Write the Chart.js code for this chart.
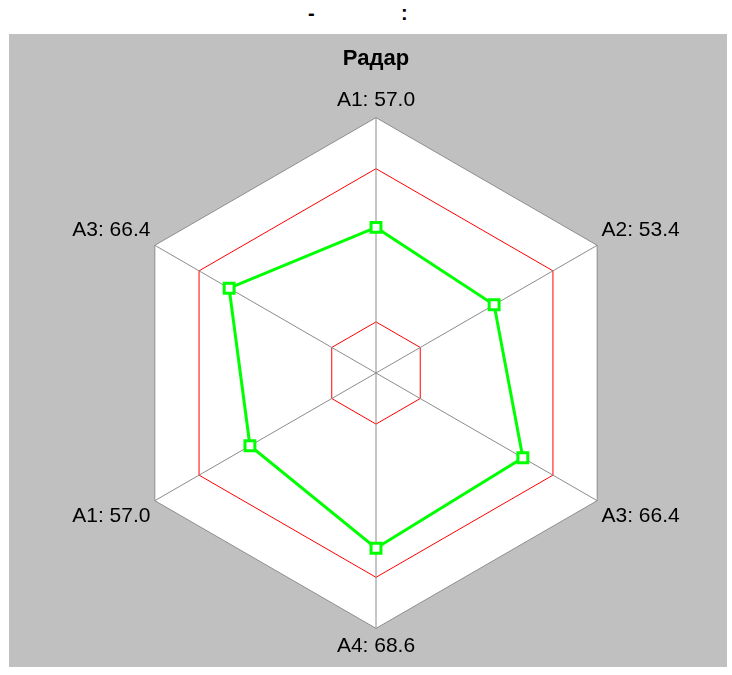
<!DOCTYPE html>
<html>
<head>
<meta charset="utf-8">
<script src="https://cdn.jsdelivr.net/npm/chart.js@4"></script>
<style>
  html, body { margin: 0; padding: 0; background: #fff; }
  body { width: 732px; height: 675px; position: relative; overflow: hidden;
         font-family: 'Liberation Sans', Arial, sans-serif; }
  .cap { position: absolute; top: 2px; font-size: 20px; font-weight: bold; color: #000; }
  #panel { position: absolute; left: 9px; top: 34px; width: 718px; height: 633px; background: #C0C0C0; }
  #panel canvas { display: block; }
</style>
</head>
<body>
<span class="cap" style="left:308px">-</span>
<span class="cap" style="left:401px">:</span>
<div id="panel"><canvas id="radar" width="718" height="633"></canvas></div>
<script>
// Radar — categories and values
const axisNames  = ['A1', 'A2', 'A3', 'A4', 'A1', 'A3'];
const axisValues = [57.0, 53.4, 66.4, 68.6, 57.0, 66.4];
const scaleTicks = [0, 20, 40, 60, 80, 100];
const alarmRings = [20, 80];

const GREEN = '#00FF00';
const RED   = '#FF0000';
const GREY  = '#8C8C8C';

Chart.defaults.font.family = "'Liberation Sans', Arial, sans-serif";
Chart.defaults.color = '#000';

new Chart(document.getElementById('radar'), {
  type: 'radar',
  data: {
    labels: axisNames,
    datasets: [{
      data: axisValues,
      borderColor: GREEN,
      borderWidth: 3,
      fill: false,
      tension: 0,
      pointStyle: 'rect',
      pointRadius: 7,
      pointBorderWidth: 3,
      pointBorderColor: GREEN,
      pointBackgroundColor: '#fff',
    }],
  },
  options: {
    responsive: false,
    animation: false,
    layout: { padding: { left: 16, right: 0, top: 0, bottom: 7 } },
    plugins: {
      legend: { display: false },
      tooltip: { enabled: false },
      title: {
        display: true,
        text: 'Радар',
        color: '#000',
        font: { size: 22, weight: 'bold' },
        padding: { top: 12, bottom: 15 },
      },
    },
    scales: {
      r: {
        min: scaleTicks[0],
        max: scaleTicks[scaleTicks.length - 1],
        afterBuildTicks: s => { s.ticks = scaleTicks.map(v => ({ value: v })); },
        backgroundColor: '#fff',
        ticks: { display: false },
        angleLines: { color: GREY, lineWidth: 1 },
        grid: {
          lineWidth: 1,
          color: c => alarmRings.includes(c.tick.value) ? RED
                    : c.tick.value === scaleTicks[scaleTicks.length - 1] ? GREY : 'rgba(0,0,0,0)',
        },
        pointLabels: {
          color: '#000',
          padding: 5,
          font: { size: 21 },
          callback: (label, i) => label + ': ' + axisValues[i].toFixed(1),
        },
      },
    },
  },
});
</script>
</body>
</html>
